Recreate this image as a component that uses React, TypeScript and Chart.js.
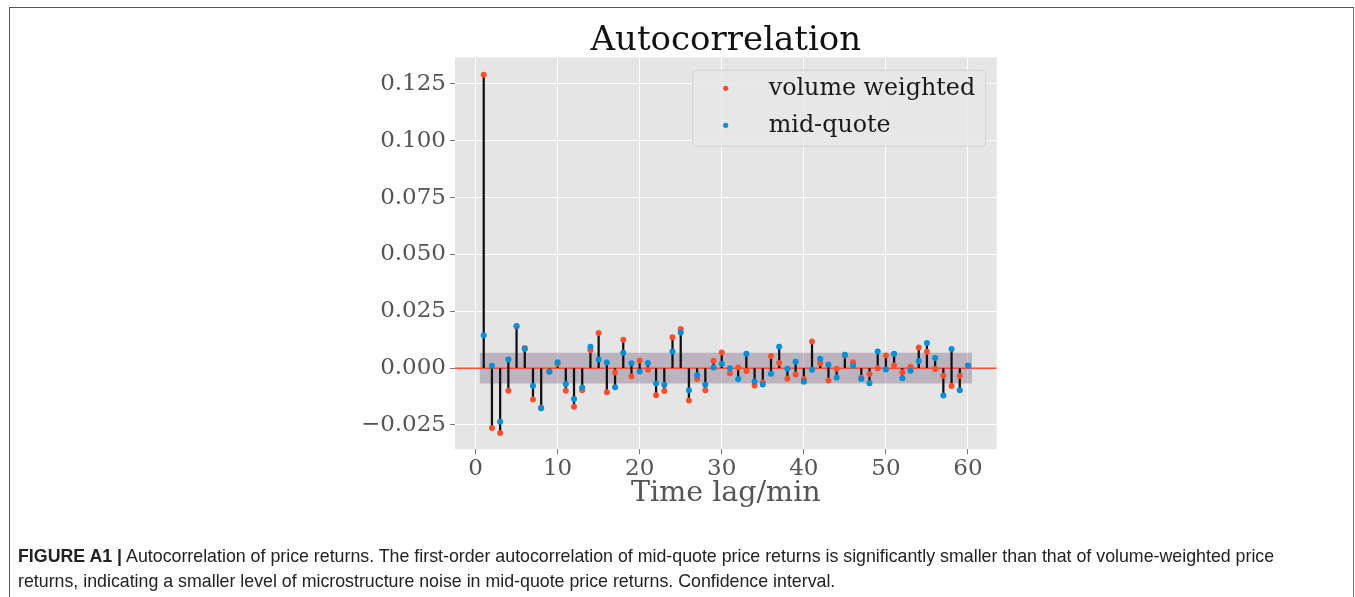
import React, { useEffect, useRef } from "react";
import { Chart, registerables } from "chart.js";

Chart.register(...registerables);

// Lags (minutes) and sample autocorrelations of the two price-return series
const lags = [
  1, 2, 3, 4, 5, 6, 7, 8, 9, 10, 11, 12, 13, 14, 15, 16, 17, 18, 19, 20,
  21, 22, 23, 24, 25, 26, 27, 28, 29, 30, 31, 32, 33, 34, 35, 36, 37, 38, 39, 40,
  41, 42, 43, 44, 45, 46, 47, 48, 49, 50, 51, 52, 53, 54, 55, 56, 57, 58, 59, 60,
];

const volumeWeighted = [
  0.129, -0.0263, -0.0285, -0.01, 0.0183, 0.0089, -0.0138, -0.0174, -0.0015, 0.0019,
  -0.01, -0.017, -0.0097, 0.0079, 0.0154, -0.0106, -0.0019, 0.0125, -0.0037, 0.0034,
  -0.0007, -0.0119, -0.0101, 0.0136, 0.0172, -0.0142, -0.0048, -0.0097, 0.0032, 0.0069,
  -0.0022, 0.0003, -0.0013, -0.0076, -0.0063, 0.0053, 0.0023, -0.0047, -0.0028, -0.0048,
  0.0117, 0.0021, -0.0054, -0.0003, 0.0055, 0.0026, -0.0042, -0.0026, 0.0, 0.0056,
  0.0012, -0.0019, 0.0006, 0.0091, 0.0072, -0.0004, -0.0034, -0.0079, -0.0035, 0.001,
];

const midQuote = [
  0.0145, 0.001, -0.0236, 0.0038, 0.0185, 0.0084, -0.0078, -0.0176, -0.0016, 0.0026,
  -0.007, -0.0136, -0.0085, 0.0094, 0.0038, 0.0025, -0.0084, 0.0068, 0.0021, -0.0015,
  0.0022, -0.0068, -0.0073, 0.0073, 0.0157, -0.0097, -0.0031, -0.0073, 0.0003, 0.0019,
  -0.0001, -0.0048, 0.0063, -0.0059, -0.0072, -0.0025, 0.0094, -0.0003, 0.0028, -0.006,
  -0.0007, 0.0041, 0.0015, -0.0041, 0.0059, 0.001, -0.0048, -0.0066, 0.0073, -0.0006,
  0.0063, -0.0044, -0.0012, 0.0031, 0.011, 0.0045, -0.012, 0.0084, -0.0097, 0.001,
];

// 95% confidence half-width and the lag span it covers
const confidence = 0.0068;
const bandSpan = [0.5, 60.5];

const xTicks = [0, 10, 20, 30, 40, 50, 60];
const yTicks = [-0.025, 0, 0.025, 0.05, 0.075, 0.1, 0.125];
const xRange = [-2.5, 63.5];
const yRange = [-0.0357, 0.1367];

const seriesLabels = ["volume weighted", "mid-quote"];
const chartTitle = "Autocorrelation";

const RED = "#fc4f30";
const BLUE = "#008fd5";
const SERIF = "'DejaVu Serif', serif";

const plotBackground = {
  id: "plotBackground",
  beforeDraw(chart: any) {
    const { ctx, chartArea: a } = chart;
    ctx.save();
    ctx.fillStyle = "#e5e5e5";
    ctx.fillRect(a.left, a.top, a.right - a.left, a.bottom - a.top);
    ctx.restore();
  },
};

// Title centred over the plotting area
const plotTitle = {
  id: "plotTitle",
  afterDraw(chart: any) {
    const { ctx, chartArea: a } = chart;
    ctx.save();
    ctx.fillStyle = "#111111";
    ctx.font = `34px ${SERIF}`;
    ctx.textAlign = "center";
    ctx.textBaseline = "alphabetic";
    ctx.fillText(chartTitle, (a.left + a.right) / 2, a.top - 7);
    ctx.restore();
  },
};

// Legend drawn inside the plot, upper right
const insideLegend = {
  id: "insideLegend",
  afterDraw(chart: any) {
    const { ctx, chartArea: a } = chart;
    const left = a.right - 304;
    const top = a.top + 13;
    const w = 293;
    const h = 76;
    ctx.save();
    ctx.beginPath();
    ctx.roundRect(left, top, w, h, 4);
    ctx.fillStyle = "rgba(232,232,232,0.85)";
    ctx.fill();
    ctx.strokeStyle = "rgba(204,204,204,0.8)";
    ctx.lineWidth = 1;
    ctx.stroke();
    const entries = chart.data.datasets.filter((d: any) => d.inLegend);
    entries.forEach((d: any, i: number) => {
      const y = top + 18 + i * 37;
      ctx.beginPath();
      ctx.arc(left + 33, y, 2.6, 0, Math.PI * 2);
      ctx.fillStyle = d.backgroundColor;
      ctx.fill();
      ctx.fillStyle = "#1a1a1a";
      ctx.font = `23.8px ${SERIF}`;
      ctx.textBaseline = "middle";
      ctx.textAlign = "left";
      ctx.fillText(d.label, left + 76, y + 1);
    });
    ctx.restore();
  },
};

export default function App() {
  const canvasRef = useRef<HTMLCanvasElement | null>(null);

  useEffect(() => {
    const canvas = canvasRef.current;
    if (!canvas) return;

    const stems = lags.map((lag, i) => {
      const r = volumeWeighted[i];
      const b = midQuote[i];
      return { x: lag, y: [Math.min(0, r, b), Math.max(0, r, b)] };
    });

    const chart = new Chart(canvas, {
      type: "scatter",
      data: {
        datasets: [
          {
            type: "line",
            data: [
              { x: bandSpan[0], y: confidence },
              { x: bandSpan[1], y: confidence },
            ],
            borderWidth: 0,
            pointRadius: 0,
            order: 6,
          } as any,
          {
            type: "line",
            data: [
              { x: bandSpan[0], y: -confidence },
              { x: bandSpan[1], y: -confidence },
            ],
            borderWidth: 0,
            pointRadius: 0,
            fill: "-1",
            backgroundColor: "rgba(89,62,96,0.3)",
            order: 5,
          } as any,
          {
            type: "line",
            data: [
              { x: xRange[0], y: 0 },
              { x: xRange[1], y: 0 },
            ],
            borderColor: RED,
            borderWidth: 1.5,
            pointRadius: 0,
            order: 4,
          } as any,
          {
            type: "bar",
            data: stems,
            backgroundColor: "#111111",
            borderWidth: 0,
            barThickness: 1.6,
            order: 3,
          } as any,
          {
            type: "scatter",
            label: seriesLabels[0],
            inLegend: true,
            data: lags.map((lag, i) => ({ x: lag, y: volumeWeighted[i] })),
            backgroundColor: RED,
            borderWidth: 0,
            pointRadius: 3,
            order: 2,
          } as any,
          {
            type: "scatter",
            label: seriesLabels[1],
            inLegend: true,
            data: lags.map((lag, i) => ({ x: lag, y: midQuote[i] })),
            backgroundColor: BLUE,
            borderWidth: 0,
            pointRadius: 3,
            order: 1,
          } as any,
        ],
      },
      options: {
        animation: false,
        responsive: false,
        events: [],
        layout: { padding: { top: 57.3, right: 358.3, bottom: 77, left: 0 } },
        plugins: {
          legend: { display: false },
          tooltip: { enabled: false },
          title: { display: false },
        },
        scales: {
          x: {
            type: "linear",
            min: xRange[0],
            max: xRange[1],
            offset: false,
            afterBuildTicks: (s: any) => {
              s.ticks = xTicks.map((v) => ({ value: v }));
            },
            afterFit: (s: any) => {
              s.height = 70.7;
            },
            grid: {
              color: "#ffffff",
              lineWidth: 1,
              offset: false,
              drawTicks: true,
              tickLength: 5,
              tickColor: "#777777",
              tickWidth: 1,
            },
            border: { display: false },
            ticks: {
              color: "#555555",
              font: { family: SERIF, size: 23 },
              padding: 1,
              maxRotation: 0,
              callback: (v: any) => String(v),
            },
            title: {
              display: true,
              text: "Time lag/min",
              color: "#555555",
              font: { family: SERIF, size: 28.5, lineHeight: 1.2 },
              padding: { top: 0, bottom: 9 },
            },
          },
          y: {
            type: "linear",
            min: yRange[0],
            max: yRange[1],
            afterBuildTicks: (s: any) => {
              s.ticks = yTicks.map((v) => ({ value: v }));
            },
            afterFit: (s: any) => {
              s.width = 455;
            },
            grid: {
              color: "#ffffff",
              lineWidth: 1,
              drawTicks: true,
              tickLength: 5,
              tickColor: "#777777",
              tickWidth: 1,
            },
            border: { display: false },
            ticks: {
              color: "#555555",
              font: { family: SERIF, size: 23 },
              padding: 4,
              callback: (v: any) => {
                const n = Number(v);
                const s = Math.abs(n).toFixed(3);
                return n < -1e-9 ? "\u2212" + s : s;
              },
            },
          },
        },
      },
      plugins: [plotBackground, plotTitle, insideLegend],
    } as any);

    return () => chart.destroy();
  }, []);

  return (
    <div
      style={{
        position: "fixed",
        left: 0,
        top: 0,
        width: 1355,
        height: 597,
        overflow: "hidden",
        background: "#ffffff",
      }}
    >
      <div
        style={{
          position: "absolute",
          left: 9,
          top: 7,
          width: 1343,
          height: 640,
          borderTop: "1.5px solid #555",
          borderLeft: "1.5px solid #555",
          borderRight: "1.5px solid #777",
        }}
      />
      <canvas
        ref={canvasRef}
        width={1355}
        height={597}
        style={{ position: "absolute", left: 0, top: 0, width: 1355, height: 597 }}
      />
      <div
        style={{
          position: "absolute",
          left: 18,
          top: 544,
          fontFamily: "'Liberation Sans', Arial, sans-serif",
          fontSize: 17.8,
          lineHeight: "25px",
          color: "#222222",
          whiteSpace: "nowrap",
        }}
      >
        <b>FIGURE A1 |</b> Autocorrelation of price returns. The first-order autocorrelation of
        mid-quote price returns is significantly smaller than that of volume-weighted price
        <br />
        returns, indicating a smaller level of microstructure noise in mid-quote price returns.
        Confidence interval.
      </div>
    </div>
  );
}
